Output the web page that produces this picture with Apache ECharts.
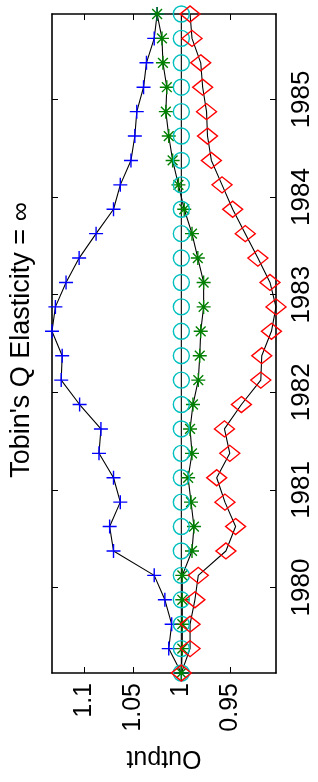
<!DOCTYPE html>
<html>
<head>
<meta charset="utf-8">
<script src="https://cdn.jsdelivr.net/npm/echarts@6/dist/echarts.min.js"></script>
<style>
  html, body { margin: 0; padding: 0; background: #fff; }
  #chart { width: 318px; height: 782px; }
</style>
</head>
<body>
<div id="chart"></div>
<script>
// quarterly time points (plotted mid-quarter)
const times = [
  1979.125, 1979.375, 1979.625, 1979.875,
  1980.125, 1980.375, 1980.625, 1980.875,
  1981.125, 1981.375, 1981.625, 1981.875,
  1982.125, 1982.375, 1982.625, 1982.875,
  1983.125, 1983.375, 1983.625, 1983.875,
  1984.125, 1984.375, 1984.625, 1984.875,
  1985.125, 1985.375, 1985.625, 1985.875
];

const plusVals = [
  1.000, 1.013, 1.010, 1.017, 1.028, 1.070, 1.074, 1.063,
  1.070, 1.085, 1.083, 1.105, 1.124, 1.123, 1.1335, 1.130,
  1.119, 1.1055, 1.088, 1.070, 1.063, 1.052, 1.048, 1.046,
  1.039, 1.036, 1.028, 1.025
];

const starVals = [
  1.000, 0.999, 0.999, 0.999, 0.999, 0.989, 0.987, 0.990,
  0.993, 0.989, 0.991, 0.988, 0.9825, 0.981, 0.980, 0.977,
  0.977, 0.983, 0.989, 0.997, 1.003, 1.009, 1.013, 1.016,
  1.015, 1.019, 1.020, 1.025
];

const circleVals = [
  1, 1, 1, 1, 1, 1, 1, 1, 1, 1, 1, 1, 1, 1,
  1, 1, 1, 1, 1, 1, 1, 1, 1, 1, 1, 1, 1, 1
];

const diamondVals = [
  1.000, 0.991, 0.991, 0.986, 0.9825, 0.954, 0.944, 0.955,
  0.9635, 0.950, 0.9555, 0.938, 0.918, 0.917, 0.907, 0.9023,
  0.9085, 0.921, 0.934, 0.947, 0.958, 0.969, 0.973, 0.974,
  0.978, 0.980, 0.989, 0.991
];

const outputTicks = [0.95, 1, 1.05, 1.1];
const yearTicks = [1980, 1981, 1982, 1983, 1984, 1985];

const font = 'Liberation Sans, Arial, sans-serif';

const chart = echarts.init(document.getElementById('chart'));

const pairs = (vals) => vals.map((v, i) => [v, times[i]]);

const sym = {
  plus: 'path://M0,5L10,5M5,0L5,10',
  star: 'path://M0,5L10,5M5,0L5,10M1.5,1.5L8.5,8.5M1.5,8.5L8.5,1.5',
  diamond: 'path://M5,0L10,5L5,10L0,5Z'
};

function mkSeries(name, vals, symbol, size, color) {
  return {
    name: name,
    type: 'line',
    data: pairs(vals),
    symbol: symbol,
    symbolSize: size,
    showAllSymbol: true,
    lineStyle: { color: '#000', width: 1.1 },
    itemStyle: { color: 'rgba(0,0,0,0)', borderColor: color, borderWidth: 1.4 },
    emphasis: { disabled: true },
    animation: false
  };
}

const option = {
  animation: false,
  grid: { left: 52, right: 42, top: 14, bottom: 109 },
  xAxis: [
    {
      type: 'value',
      inverse: true,
      position: 'bottom',
      min: 0.9023,
      max: 1.1335,
      splitLine: { show: false },
      axisLine: { lineStyle: { color: '#000', width: 1.6 } },
      axisTick: { inside: true, length: 6, customValues: outputTicks, lineStyle: { color: '#000' } },
      axisLabel: {
        customValues: outputTicks,
        rotate: 90,
        margin: 10,
        color: '#000',
        fontFamily: font,
        fontSize: 25,
        formatter: (v) => String(v)
      }
    },
    {
      type: 'value',
      inverse: true,
      position: 'top',
      min: 0.9023,
      max: 1.1335,
      splitLine: { show: false },
      axisLine: { lineStyle: { color: '#000', width: 1.6 } },
      axisTick: { inside: true, length: 6, customValues: outputTicks, lineStyle: { color: '#000' } },
      axisLabel: { show: false }
    }
  ],
  yAxis: [
    {
      type: 'value',
      position: 'right',
      min: 1979.125,
      max: 1985.875,
      splitLine: { show: false },
      axisLine: { lineStyle: { color: '#000', width: 1.6 } },
      axisTick: { inside: true, length: 6, customValues: yearTicks, lineStyle: { color: '#000' } },
      axisLabel: {
        customValues: yearTicks,
        rotate: 90,
        margin: 13,
        color: '#000',
        fontFamily: font,
        fontSize: 26,
        formatter: (v) => String(v)
      }
    },
    {
      type: 'value',
      position: 'left',
      min: 1979.125,
      max: 1985.875,
      splitLine: { show: false },
      axisLine: { lineStyle: { color: '#000', width: 1.6 } },
      axisTick: { inside: true, length: 6, customValues: yearTicks, lineStyle: { color: '#000' } },
      axisLabel: { show: false }
    }
  ],
  graphic: [
    {
      type: 'text',
      x: 22,
      y: 340,
      rotation: Math.PI / 2,
      style: {
        text: "Tobin's Q Elasticity = \u221e",
        fontFamily: font,
        fontSize: 27,
        fill: '#000',
        textAlign: 'center',
        textVerticalAlign: 'middle'
      }
    },
    {
      type: 'text',
      x: 164,
      y: 758,
      rotation: Math.PI,
      style: {
        text: 'Output',
        fontFamily: font,
        fontSize: 25,
        fill: '#000',
        textAlign: 'center',
        textVerticalAlign: 'middle'
      }
    }
  ],
  series: [
    mkSeries('plus', plusVals, sym.plus, 14, '#0000ff'),
    mkSeries('star', starVals, sym.star, 14, '#008000'),
    mkSeries('circle', circleVals, 'circle', 16, '#00bfbf'),
    mkSeries('diamond', diamondVals, sym.diamond, [20, 16], '#ff0000')
  ]
};

chart.setOption(option);
</script>
</body>
</html>
